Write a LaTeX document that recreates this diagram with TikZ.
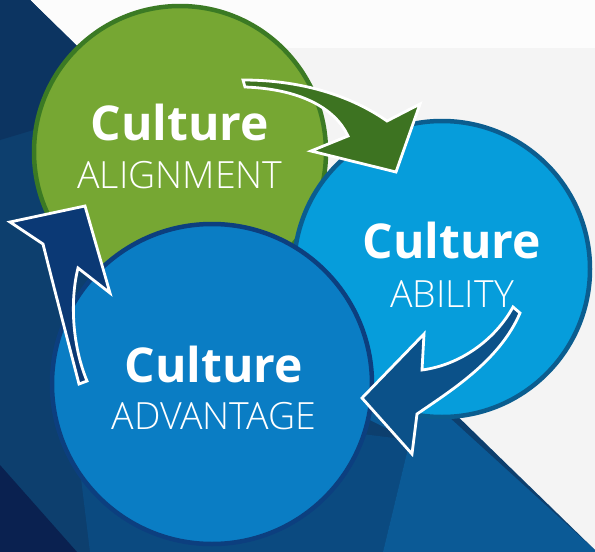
\documentclass[tikz,border=0pt]{standalone}
\usepackage{fontspec}
\setmainfont{Open Sans}
\newfontfamily\lightfont{Open Sans Light}
\definecolor{bgw}{HTML}{FCFCFC}
\definecolor{bgg}{HTML}{F4F4F4}
\definecolor{navyA}{HTML}{0C3461}
\definecolor{navyB}{HTML}{0D3F6E}
\definecolor{navyC}{HTML}{0A2150}
\definecolor{blueD}{HTML}{0B4A80}
\definecolor{blueE}{HTML}{0B5A96}
\definecolor{gfill}{HTML}{76A733}
\definecolor{gline}{HTML}{3B7A24}
\definecolor{garrow}{HTML}{3D7321}
\definecolor{abfill}{HTML}{069DDB}
\definecolor{abline}{HTML}{0B5D8F}
\definecolor{adfill}{HTML}{0A7DC4}
\definecolor{adline}{HTML}{0C3F7F}
\definecolor{arrowB}{HTML}{0B5189}
\definecolor{arrowN}{HTML}{0B3975}
\begin{document}
\begin{tikzpicture}[x=1pt,y=-1pt,
  bubble/.style={circle,inner sep=0pt,line width=4.5pt},
  bigword/.style={anchor=base,text=white,inner sep=0pt,font=\bfseries\fontsize{48}{48}\selectfont},
  subword/.style={anchor=base,text=white,inner sep=0pt,font=\lightfont\fontsize{37.5}{37.5}\selectfont},
  blockarrow/.style={draw=white,line width=2.8pt,line join=miter,miter limit=10}]
\useasboundingbox (0,0) rectangle (595,552);
% background
\fill[bgg] (0,0) rectangle (595,552);
\fill[bgw] (0,0) rectangle (595,48);
\fill[navyB] (0,0) -- (30,0) -- (595,550) -- (595,552) -- (0,552) -- cycle;
\fill[navyA] (0,0) -- (30,0) -- (150,118) -- (40,128) -- (0,140) -- cycle;
\fill[blueD] (80,470) -- (330,430) -- (410,440) -- (383,552) -- (90,552) -- cycle;
\fill[blueE] (330,400) -- (450,418) -- (595,550) -- (595,552) -- (383,552) -- (410,440) -- cycle;
\fill[navyC] (0,465) -- (77,552) -- (0,552) -- cycle;
% circles
\node[bubble,fill=gfill,draw=gline,minimum size=292pt] (align) at (180,152) {};
\node[bubble,fill=abfill,draw=abline,minimum size=296pt] (ability) at (442,269) {};
\node[bubble,fill=adfill,draw=adline,minimum size=320pt] (advantage) at (212,384) {};
% arrows
\fill[garrow,blockarrow] (243,80) .. controls (300,80) and (350,95) .. (387,121)
  -- (420,104) -- (396,172) -- (311,151) -- (348,136)
  .. controls (335,108) and (300,89) .. (245,87) -- cycle;
\fill[arrowB,blockarrow] (513,307) .. controls (495,340) and (460,365) .. (422,370)
  -- (424,334) -- (362,398) -- (412,454) -- (417,414)
  .. controls (452,390) and (500,360) .. (520,313) -- cycle;
\fill[arrowN,blockarrow] (79,384) .. controls (65,330) and (52,280) .. (43,244)
  -- (10,222) -- (85,206) -- (110,293) -- (78,268)
  .. controls (70,300) and (72,345) .. (87,381) -- cycle;
% texts
\node[bigword] (c1) at (180,140) {Culture};
\node[subword] (s1) at (180,188) {ALIGNMENT};
\node[bigword] (c2) at (452,258) {Culture};
\node[subword] (s2) at (452,307) {ABILITY};
\node[bigword] (c3) at (214,382) {Culture};
\node[subword] (s3) at (214,429) {ADVANTAGE};
\end{tikzpicture}
\end{document}
